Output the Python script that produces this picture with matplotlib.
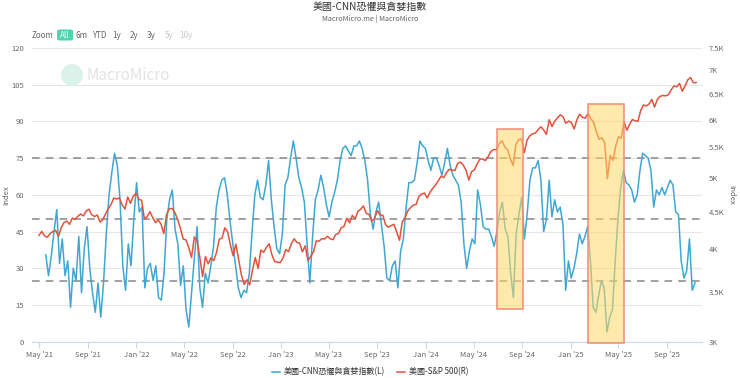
import matplotlib
matplotlib.use('Agg')
import pandas as pd
import matplotlib.pyplot as plt
import matplotlib.dates as mdates
from matplotlib.patches import Rectangle, Ellipse, FancyBboxPatch
from matplotlib.ticker import FixedLocator, NullLocator, FuncFormatter

plt.rcParams['font.family'] = ['Noto Sans CJK TC', 'DejaVu Sans']

# CNN fear & greed index, roughly weekly (left axis)
fear_greed = [
    35.5, 27, 35, 45, 54, 32, 42, 27, 33, 14,
    30, 25, 43, 20, 38, 47, 30, 20, 12, 24,
    10, 24, 44, 60, 69, 77, 72, 58, 31, 21,
    40, 31, 50, 65, 53, 55, 22, 30, 32, 25,
    31, 18, 17, 28, 50, 58, 62, 46, 40, 23,
    31, 13, 6, 20, 34, 47, 22, 14, 28, 24,
    31, 39, 55, 62, 66, 67, 60, 49, 40, 31,
    22, 18, 21, 20, 28, 45, 60, 66, 59, 58,
    64, 74, 58, 47, 38, 36, 44, 64, 67, 75,
    82, 75, 67, 63, 57, 40, 24, 43, 58, 62,
    68, 63, 56, 51, 57, 61, 66, 74, 79, 80,
    78, 76, 80, 80, 82, 79, 74, 66, 52, 46,
    53, 57, 48, 39, 26, 25, 31, 33, 22, 37,
    42, 55, 65, 65, 66, 73, 82, 80, 79, 74,
    70, 75, 75, 72, 68, 73, 79, 72, 68, 66,
    64, 57, 40, 30, 37, 42, 40, 62, 56, 47,
    46, 46, 43, 39, 45, 53, 57, 46, 43, 28,
    18, 44, 52, 59, 42, 52, 66, 71, 71, 74,
    66, 45, 50, 66, 51, 58, 53, 55, 48, 21,
    33, 26, 30, 36, 44, 40, 43, 47, 33, 14,
    12, 19, 25, 22, 4, 10, 13, 33, 50, 63,
    70, 65, 64, 62, 57, 60, 70, 77, 76, 75,
    70, 55, 62, 60, 63, 60, 63, 66, 64, 53,
    52, 33, 26, 29, 42, 21, 24,
]
fg_start, fg_end = '2021-05-17', '2025-11-11'

# S&P 500, weekly closes (right axis)
sp500 = [
    4181,
    4232, 4173, 4156, 4204, 4230, 4247, 4166, 4281,
    4352, 4370, 4327, 4412, 4395, 4437, 4468, 4442, 4509,
    4535, 4459, 4433, 4455, 4357, 4391, 4471, 4545, 4605,
    4697, 4683, 4698, 4595, 4538, 4712, 4620, 4726, 4766,
    4677, 4663, 4398, 4432, 4501, 4419, 4349, 4385,
    4329, 4204, 4463, 4543, 4546, 4488, 4393, 4272, 4132,
    4123, 4024, 3901, 4158, 4109, 3901, 3675, 3912,
    3825, 3899, 3863, 3962, 4130, 4145, 4280, 4228, 4058,
    3924, 4067, 3873, 3693, 3586, 3640, 3583, 3753, 3901,
    3771, 3993, 3965, 4026, 4072, 3934, 3852, 3845, 3840,
    3895, 3999, 3973, 4071, 4136, 4090, 4079, 3970,
    4046, 3862, 3917, 3971, 4109, 4105, 4138, 4133, 4169,
    4136, 4124, 4192, 4205, 4282, 4299, 4410, 4348, 4450,
    4399, 4505, 4536, 4582, 4478, 4464, 4370, 4406,
    4515, 4457, 4450, 4320, 4288, 4309, 4327, 4224, 4117,
    4358, 4415, 4514, 4559, 4595, 4604, 4719, 4755, 4770,
    4697, 4783, 4840, 4891, 4959, 5027, 5006, 5089,
    5137, 5124, 5117, 5234, 5254, 5204, 5123, 4967, 5100,
    5128, 5223, 5303, 5305, 5278, 5347, 5432, 5465, 5460,
    5567, 5615, 5505, 5459, 5300, 5200, 5554, 5634, 5648,
    5408, 5626, 5703, 5738, 5751, 5815, 5865, 5808,
    5729, 5996, 5871, 5969, 6032, 6090, 6051, 5931, 5971,
    5942, 5827, 5997, 6101, 6041, 6026, 6115, 6013, 5955,
    5770, 5639, 5668, 5581, 4990, 5363, 5283, 5525,
    5686, 5660, 5958, 5803, 5912, 6000, 5977, 5968, 6173,
    6279, 6260, 6297, 6389, 6238, 6389, 6450, 6467, 6460,
    6482, 6584, 6664, 6644, 6716, 6553, 6664, 6792, 6840,
    6729, 6734,
]
sp_start = '2021-04-30'

# highlighted periods: start, end, bottom, top (left axis units)
highlights = [
    ('2024-06-28', '2024-09-02', 13.3, 87.0),
    ('2025-02-14', '2025-05-16', -0.4, 97.1),
]
ref_levels = [25, 50, 75]
left_ticks = [0, 15, 30, 45, 60, 75, 90, 105, 120]
right_ticks = [3000, 3500, 4000, 4500, 5000, 5500, 6000, 6500, 7000, 7500]

W, H = 740, 378
BLUE = '#3fa7d3'
RED = '#e3523a'
GREY = '#666666'


def px(x):
    return x / W


def py(y):
    return 1 - y / H


fg_dates = pd.date_range(fg_start, fg_end, periods=len(fear_greed))
sp_dates = pd.date_range(sp_start, periods=len(sp500), freq='W-FRI')

fig = plt.figure(figsize=(W / 100, H / 100), dpi=100)
ax = fig.add_axes([px(32.3), py(341.7), px(701.7) - px(32.3), py(48) - py(341.7)])
ax2 = ax.twinx()

l1, = ax.plot(fg_dates, fear_greed, color=BLUE, lw=1.1, label='美國-CNN恐懼與貪婪指數(L)')
l2, = ax2.plot(sp_dates, sp500, color=RED, lw=1.1, label='美國-S&P 500(R)')

for lv in ref_levels:
    ax.axhline(lv, color='#888888', lw=1.1, ls=(0, (5, 4)), zorder=1)

for s, e, b, t in highlights:
    x0 = mdates.date2num(pd.Timestamp(s))
    x1 = mdates.date2num(pd.Timestamp(e))
    ax2.add_patch(Rectangle((x0, b), x1 - x0, t - b, transform=ax.transData,
                            facecolor='#ffd966', alpha=0.55, edgecolor='none',
                            zorder=5, clip_on=False))
    ax2.add_patch(Rectangle((x0, b), x1 - x0, t - b, transform=ax.transData,
                            facecolor='none', edgecolor='#f08a78', lw=1.1,
                            zorder=6, clip_on=False))

ax.set_xlim(pd.Timestamp('2021-04-13'), pd.Timestamp('2025-11-28'))
ax.set_ylim(0, 120)
ax.yaxis.set_major_locator(FixedLocator(left_ticks))
ax.grid(axis='y', color='#e6e6e6', lw=0.8)
ax.set_axisbelow(True)

ax2.set_yscale('log')
ax2.set_ylim(3000, 7500)
ax2.yaxis.set_major_locator(FixedLocator(right_ticks))
ax2.yaxis.set_minor_locator(NullLocator())
ax2.yaxis.set_major_formatter(FuncFormatter(lambda v, p: f'{v / 1000:g}K'))

ax.xaxis.set_major_locator(mdates.MonthLocator(bymonth=[1, 5, 9]))
ax.xaxis.set_major_formatter(mdates.DateFormatter("%b '%y"))

for a in (ax, ax2):
    for sp in a.spines.values():
        sp.set_visible(False)
ax.spines['bottom'].set_visible(True)
ax.spines['bottom'].set_color('#ccd6eb')
ax.tick_params(axis='x', colors='#ccd6eb', length=4, width=0.8, labelcolor=GREY,
               labelsize=5.5, pad=3)
ax.tick_params(axis='y', length=0, labelcolor=GREY, labelsize=5.5, pad=6)
ax2.tick_params(axis='y', length=0, labelcolor=GREY, labelsize=5.5, pad=5)

ax.set_ylabel('Index', color=GREY, fontsize=5.5)
ax.yaxis.set_label_coords((10 - 32.3) / 669.4, 0.5)
ax2.set_ylabel('Index', color=GREY, fontsize=5.5, rotation=270, va='center')
ax2.yaxis.set_label_coords((731 - 32.3) / 669.4, 0.5)

# titles
fig.text(0.5, py(7), '美國-CNN恐懼與貪婪指數', ha='center', va='center',
         fontsize=7.2, color='#333333')
fig.text(0.5, py(19), 'MacroMicro.me | MacroMicro', ha='center', va='center',
         fontsize=5.2, color=GREY)

# range selector
fig.add_artist(FancyBboxPatch((px(57), py(40.5)), px(16), py(29.5) - py(40.5),
                              boxstyle='round,pad=0,rounding_size=0.004',
                              transform=fig.transFigure, facecolor='#4fd3b0',
                              edgecolor='none'))
buttons = [('Zoom', 43, GREY), ('All', 65, 'white'), ('6m', 82, GREY), ('YTD', 99, GREY),
           ('1y', 117, GREY), ('2y', 134, GREY), ('3y', 151, GREY), ('5y', 169, '#c8c8c8'),
           ('10y', 186, '#c8c8c8')]
for txt, xc, col in buttons:
    fig.text(px(xc), py(35), txt, ha='center', va='center', fontsize=5.8, color=col)

# watermark
fig.add_artist(Ellipse((px(72), py(75)), 22 / W, 22 / H, transform=fig.transFigure,
                       facecolor='#d2efe6', edgecolor='none', alpha=0.8))
fig.text(px(86), py(75), 'MacroMicro', ha='left', va='center', fontsize=11,
         color='#dcdcdc', alpha=0.8)

fig.legend(handles=[l1, l2], loc='center', bbox_to_anchor=(0.5, py(372)), ncol=2,
           frameon=False, fontsize=5.8, handlelength=1.0, handletextpad=0.5,
           columnspacing=1.5, labelcolor='#333333')

fig.savefig('out.png', dpi=100)
